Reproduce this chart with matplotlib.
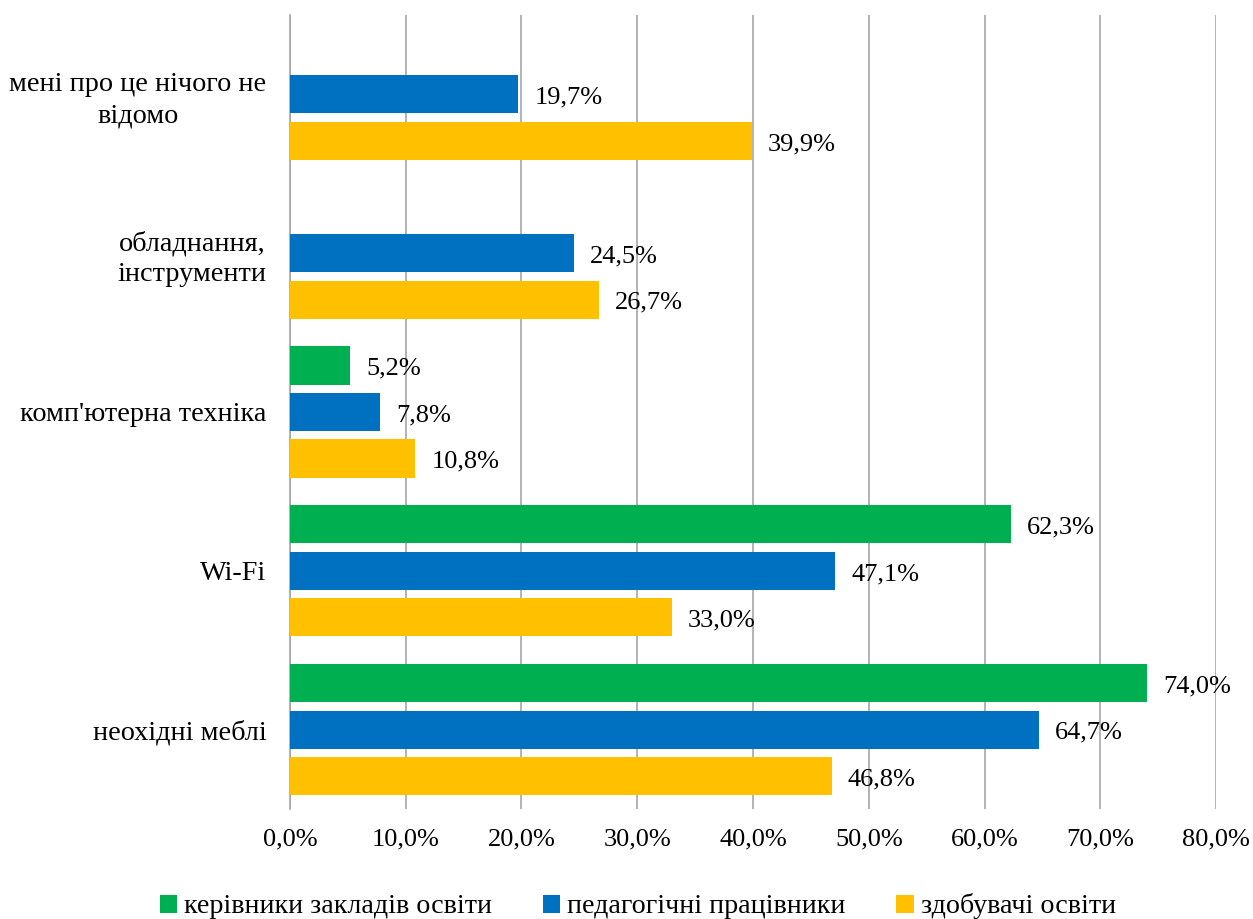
import numpy as np
import matplotlib
matplotlib.use("Agg")
import matplotlib.pyplot as plt
from matplotlib.ticker import FuncFormatter

plt.rcParams['font.family'] = ['Liberation Serif', 'DejaVu Serif']

# categories from bottom to top
categories = ["неохідні меблі", "Wi-Fi", "комп'ютерна техніка",
              "обладнання,\nінструменти", "мені про це нічого не\nвідомо"]
series = ["керівники закладів освіти", "педагогічні працівники", "здобувачі освіти"]
kerivnyky = [74.0, 62.3, 5.2, np.nan, np.nan]
pedagogy = [64.7, 47.1, 7.8, 24.5, 19.7]
zdobuvachi = [46.8, 33.0, 10.8, 26.7, 39.9]
colors = ["#00B050", "#0070C0", "#FFC000"]

fig = plt.figure(figsize=(12.53, 9.19), dpi=100)
ax = fig.add_axes([0.2314, 0.1197, 0.7391, 0.864])

y = np.arange(len(categories))
step = 0.293
h = 0.24
fs = 19

for i, (vals, col, name) in enumerate(zip([kerivnyky, pedagogy, zdobuvachi], colors, series)):
    pos = y + (1 - i) * step
    bars = ax.barh(pos, vals, height=h, color=col, label=name, zorder=3)
    for p, v in zip(pos, vals):
        if np.isnan(v):
            continue
        ax.text(v + 1.4, p - 0.02, f"{v:.1f}%".replace(".", ","), va="center", ha="left",
                fontsize=fs, color="#000000", zorder=4)

ax.set_xlim(0, 80)
ax.set_ylim(-0.5, 4.5)
ax.set_xticks(np.arange(0, 81, 10))
ax.xaxis.set_major_formatter(FuncFormatter(lambda x, _: f"{x:.1f}%".replace(".", ",")))
ax.set_yticks(y)
ax.set_yticklabels(categories, multialignment="center", linespacing=1.3)
ax.tick_params(axis="x", length=0, pad=14, labelsize=fs)
ax.tick_params(axis="y", length=0, pad=17, labelsize=20.3)
ax.grid(axis="x", color="#A6A6A6", lw=1.2, zorder=0)
for s in ["top", "right", "bottom"]:
    ax.spines[s].set_visible(False)
ax.spines["left"].set_color("#A6A6A6")
ax.spines["left"].set_linewidth(1.2)

fig.legend(loc="lower center", bbox_to_anchor=(0.509, -0.028), ncol=3, frameon=False,
           fontsize=20.2, handlelength=0.62, handleheight=0.62, handletextpad=0.25,
           columnspacing=1.8)

fig.savefig("out.png", dpi=100)
